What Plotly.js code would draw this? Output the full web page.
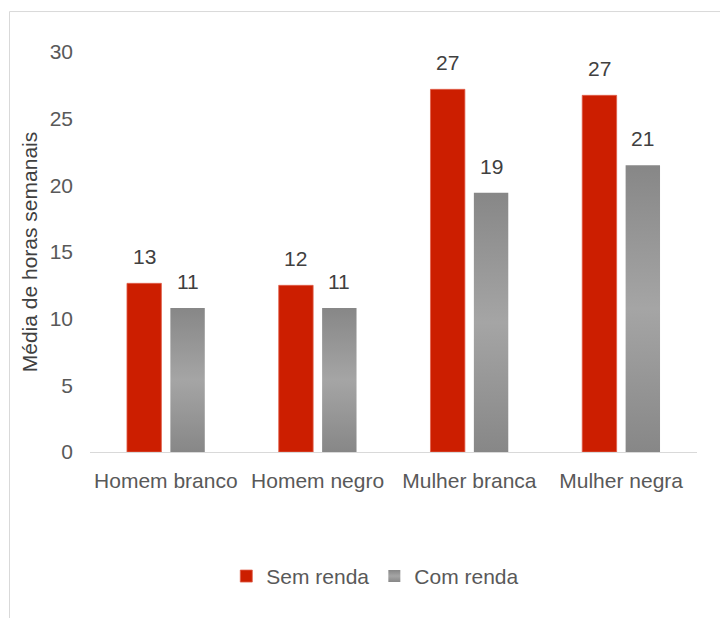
<!DOCTYPE html>
<html>
<head>
<meta charset="utf-8">
<script src="https://cdn.plot.ly/plotly-3.0.1.min.js"></script>
<style>
  html, body { margin: 0; padding: 0; background: #ffffff; }
  #chart { width: 720px; height: 618px; }
</style>
</head>
<body>
<div id="chart"></div>
<script>
// ---- data ----
const categories = ["Homem branco", "Homem negro", "Mulher branca", "Mulher negra"];
const seriesNames = ["Sem renda", "Com renda"];
const semRenda = [12.65, 12.5, 27.2, 26.75];
const comRenda = [10.8, 10.8, 19.45, 21.5];
const semRendaLabels = ["13", "12", "27", "27"];
const comRendaLabels = ["11", "11", "19", "21"];
const yTickVals = [0, 5, 10, 15, 20, 25, 30];
const yTitle = "Média de horas semanais";

const FONT = "Liberation Sans, Arial, sans-serif";
const FS = 21;
const red = "#CC1E00";
const gray = "#999999";

const traces = [
  {
    type: "bar", name: seriesNames[0], x: categories, y: semRenda,
    marker: { color: red, line: { color: "#e0604a", width: 0.8 } },
    hoverinfo: "none"
  },
  {
    type: "bar", name: seriesNames[1], x: categories, y: comRenda,
    marker: { color: gray, line: { width: 0 } },
    hoverinfo: "none"
  }
];

const annotations = [];
categories.forEach((c, i) => {
  annotations.push({ x: c, y: semRenda[i], text: semRendaLabels[i], xref: "x", yref: "y",
    showarrow: false, xshift: -21.75, yshift: 13, yanchor: "bottom",
    font: { family: FONT, size: FS, color: "#404040" } });
  annotations.push({ x: c, y: comRenda[i], text: comRendaLabels[i], xref: "x", yref: "y",
    showarrow: false, xshift: 21.75, yshift: 13, yanchor: "bottom",
    font: { family: FONT, size: FS, color: "#404040" } });
});

const L = 90, R = 23, T = 52, B = 165.5;
const pw = 720 - L - R, ph = 618 - T - B;
const bx = (9.5 - L) / pw;
const by = 1 + (T - 11.5) / ph;

const layout = {
  width: 720, height: 618,
  margin: { l: L, r: R, t: T, b: B },
  paper_bgcolor: "#ffffff", plot_bgcolor: "#ffffff",
  font: { family: FONT, size: FS, color: "#595959" },
  barmode: "group",
  bargap: 0.428,
  bargroupgap: 0.207,
  showlegend: true,
  legend: {
    orientation: "h", x: 0.47, xanchor: "center", y: -0.311, yanchor: "middle",
    font: { family: FONT, size: FS, color: "#595959" },
    itemclick: false, itemdoubleclick: false
  },
  xaxis: {
    type: "category",
    showline: true, linecolor: "#d9d9d9", linewidth: 1,
    showgrid: false, zeroline: false, ticks: "",
    ticklabelstandoff: 10,
    tickfont: { family: FONT, size: FS, color: "#595959" }
  },
  yaxis: {
    range: [0, 30], tickvals: yTickVals, ticktext: yTickVals.map(String),
    showline: false, showgrid: false, zeroline: false, ticks: "",
    ticklabelstandoff: 16,
    tickfont: { family: FONT, size: FS, color: "#595959" },
    title: { text: yTitle, font: { family: FONT, size: FS, color: "#404040" }, standoff: 6 }
  },
  annotations: annotations,
  shapes: [
    { type: "line", xref: "paper", yref: "paper", x0: bx, x1: bx, y0: by, y1: -1,
      line: { color: "#d9d9d9", width: 1 } },
    { type: "line", xref: "paper", yref: "paper", x0: bx, x1: 1.2, y0: by, y1: by,
      line: { color: "#d9d9d9", width: 1 } }
  ]
};

Plotly.newPlot("chart", traces, layout, { staticPlot: true, displayModeBar: false }).then(gd => {
  const svg = gd.querySelector("svg.main-svg");
  const ns = "http://www.w3.org/2000/svg";
  let defs = svg.querySelector("defs");
  if (!defs) { defs = document.createElementNS(ns, "defs"); svg.insertBefore(defs, svg.firstChild); }
  const lg = document.createElementNS(ns, "linearGradient");
  lg.setAttribute("id", "grayGrad");
  lg.setAttribute("x1", "0"); lg.setAttribute("y1", "0");
  lg.setAttribute("x2", "0"); lg.setAttribute("y2", "1");
  [["0%", "#878787"], ["50%", "#a5a5a5"], ["100%", "#878787"]].forEach(([o, c]) => {
    const s = document.createElementNS(ns, "stop");
    s.setAttribute("offset", o); s.setAttribute("stop-color", c);
    lg.appendChild(s);
  });
  defs.appendChild(lg);
  const traceGroups = gd.querySelectorAll(".barlayer .trace");
  if (traceGroups[1]) traceGroups[1].querySelectorAll("path").forEach(p => { p.style.fill = "url(#grayGrad)"; });
  const legendItems = gd.querySelectorAll(".legend .traces");
  if (legendItems[1]) legendItems[1].querySelectorAll(".legendpoints path").forEach(p => { p.style.fill = "url(#grayGrad)"; });
});
</script>
</body>
</html>
